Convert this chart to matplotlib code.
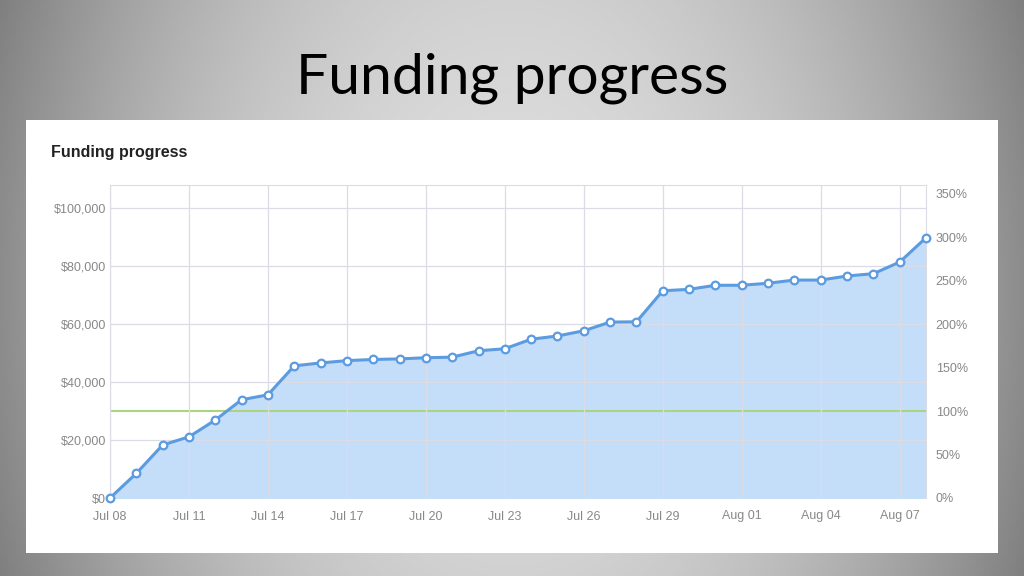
import numpy as np
import pandas as pd
import matplotlib
matplotlib.use("Agg")
import matplotlib.pyplot as plt
import matplotlib.dates as mdates
from matplotlib.patches import Rectangle
from matplotlib.ticker import FuncFormatter

# funding in dollars per day
dates = pd.date_range("2013-07-08", "2013-08-08", freq="D")
amount = [0, 8500, 18300, 21100, 26900, 33900, 35600, 45600, 46600, 47400,
          47800, 48000, 48400, 48600, 50800, 51500, 54800, 55900, 57700, 60700,
          60800, 71500, 72000, 73400, 73400, 74100, 75200, 75200, 76600, 77400,
          81400, 89800]
goal = 30000
left_ticks = [0, 20000, 40000, 60000, 80000, 100000]
right_ticks = [0, 50, 100, 150, 200, 250, 300, 350]
tick_dates = pd.date_range("2013-07-08", "2013-08-07", freq="3D")

fig = plt.figure(figsize=(10.24, 5.76), dpi=100)

# slide background: grey gradient, light in the middle, darker to the sides
bg = fig.add_axes([0, 0, 1, 1])
yy, xx = np.mgrid[-1:1:288j, -1:1:512j]
shade = 0.87 - 0.32 * xx ** 2 - 0.05 * yy ** 2
bg.imshow(np.dstack([shade] * 3), aspect="auto", extent=[0, 1, 0, 1])
bg.set_axis_off()
bg.add_patch(Rectangle((26 / 1024, 1 - 553 / 576), 972 / 1024, 433 / 576,
                       transform=fig.transFigure, facecolor="white", edgecolor="none"))

fig.text(0.5, 1 - 93 / 576, "Funding progress", ha="center", va="baseline",
         fontsize=41, family="Lato", color="black")
fig.text(51 / 1024, 1 - 153 / 576, "Funding progress", ha="left", va="center",
         fontsize=11.5, fontweight="bold", family="Liberation Sans", color="#222222")

ax = fig.add_axes([110 / 1024, 78 / 576, 816 / 1024, 313 / 576])
ymax = 108000
ax.fill_between(dates, amount, 0, color="#c4defa", zorder=1)
ax.axhline(goal, color="#aad47e", lw=1.5, zorder=2)
ax.plot(dates, amount, color="#5c9be0", lw=2.2, marker="o", markersize=5.5,
        markerfacecolor="white", markeredgecolor="#5c9be0", markeredgewidth=1.6,
        zorder=4, clip_on=False)

ax.set_xlim(dates[0], dates[-1])
ax.set_ylim(0, ymax)
ax.set_yticks(left_ticks)
ax.yaxis.set_major_formatter(FuncFormatter(lambda v, p: "${:,.0f}".format(v)))
ax.set_xticks(tick_dates)
ax.xaxis.set_major_formatter(mdates.DateFormatter("%b %d"))
ax.grid(True, color="#dcdce6", lw=0.9, zorder=3)
ax.set_axisbelow(False)
for s in ["left", "right", "top"]:
    ax.spines[s].set_color("#dcdce6")
ax.spines["bottom"].set_visible(False)
ax.tick_params(length=0, labelsize=9, labelcolor="#888888")
ax.tick_params(axis="y", pad=3)
ax.tick_params(axis="x", pad=9)
for lbl in ax.get_xticklabels() + ax.get_yticklabels():
    lbl.set_family("Liberation Sans")

ax2 = ax.twinx()
ax2.set_ylim(0, ymax / goal * 100)
ax2.set_yticks(right_ticks)
ax2.set_yticklabels([f"{t}%" for t in right_ticks], family="Liberation Sans")
ax2.tick_params(length=0, labelsize=9, labelcolor="#888888", pad=7)
for s in ax2.spines.values():
    s.set_visible(False)

fig.savefig("out.png", dpi=100)
